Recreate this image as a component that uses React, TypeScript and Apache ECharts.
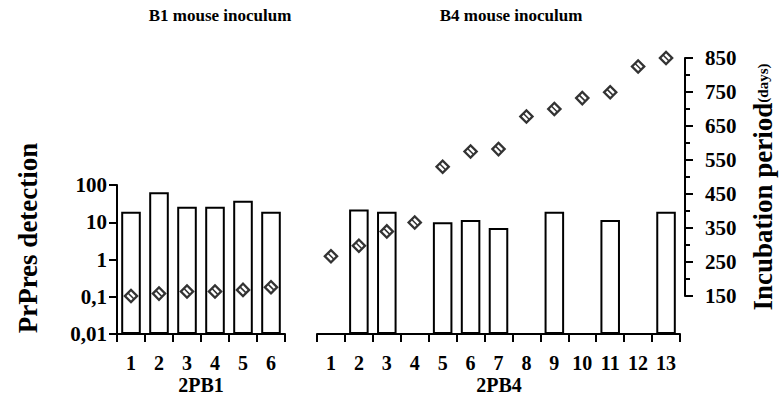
import React, { useEffect, useRef } from "react";
import * as echarts from "echarts";

const CAT_B1 = ["1", "2", "3", "4", "5", "6"];
const CAT_B4 = ["1", "2", "3", "4", "5", "6", "7", "8", "9", "10", "11", "12", "13"];
const PRPRES_B1 = [19, 64, 26, 26, 38, 19];
const PRPRES_B4: (number | null)[] = [null, 22, 19, null, 10, 11.5, 7, null, 19, null, 11.5, null, 19];
const INCUB_B1 = [150, 157, 163, 163, 168, 176];
const INCUB_B4 = [267, 298, 340, 366, 530, 575, 582, 678, 700, 732, 749, 825, 850];
const PRPRES_TICKS = ["0,01", "0,1", "1", "10", "100"];
const PRPRES_MIN = 0.01;
const INCUB_MIN = 150;
const INCUB_MAX = 850;
const INCUB_STEP = 100;

const FONT = "Liberation Serif";
const DIAMOND =
  "path://M0 0 L10 0 L10 10 L0 10 Z M2.1 2.1 L2.1 7.9 L4.3 7.9 L4.3 2.1 Z M5.7 2.1 L5.7 7.9 L7.9 7.9 L7.9 2.1 Z";

const toLog = (v: number | null) => (v == null ? "-" : Math.log10(v / PRPRES_MIN));

const txt = (text: string, size: number) => ({
  text,
  fill: "#000",
  fontFamily: FONT,
  fontWeight: "bold",
  fontSize: size,
  textAlign: "center",
  textVerticalAlign: "middle",
});

export default function App() {
  const ref = useRef<HTMLDivElement>(null);
  useEffect(() => {
    if (!ref.current) return;
    const chart = echarts.init(ref.current, undefined, { renderer: "svg" });
    const labelStyle = { color: "#000", fontFamily: FONT, fontWeight: "bold" as const, fontSize: 21 };
    const line = { show: true, lineStyle: { color: "#000", width: 2 } };
    const tick = { show: true, length: 8, lineStyle: { color: "#000", width: 2 } };
    const catAxis = (gridIndex: number, data: string[]) => ({
      type: "category",
      gridIndex,
      data,
      boundaryGap: true,
      axisLine: line,
      axisTick: tick,
      axisLabel: { ...labelStyle, fontSize: 20, margin: 19, interval: 0 },
      splitLine: { show: false },
    });
    const hiddenCat = (gridIndex: number, data: string[]) => ({
      type: "category",
      gridIndex,
      data,
      boundaryGap: true,
      show: false,
    });
    const diamondSeries = (idx: number, values: number[]) => ({
      type: "scatter",
      xAxisIndex: idx,
      yAxisIndex: idx,
      clip: false,
      symbol: DIAMOND,
      symbolSize: 11,
      symbolRotate: 45,
      data: values.map((v) => v - INCUB_MIN),
      itemStyle: { color: "#000" },
    });
    chart.setOption({
      animation: false,
      backgroundColor: "#fff",
      grid: [
        { left: 117, right: 494, top: 185, bottom: 74 },
        { left: 317, right: 99, top: 185, bottom: 74 },
        { left: 317, right: 99, top: 58, bottom: 112 },
        { left: 117, right: 494, top: 58, bottom: 112 },
      ],
      xAxis: [catAxis(0, CAT_B1), catAxis(1, CAT_B4), hiddenCat(2, CAT_B4), hiddenCat(3, CAT_B1)],
      yAxis: [
        {
          type: "value",
          gridIndex: 0,
          min: 0,
          max: PRPRES_TICKS.length - 1,
          interval: 1,
          axisLine: line,
          axisTick: tick,
          axisLabel: { ...labelStyle, margin: 10, formatter: (v: number) => PRPRES_TICKS[Math.round(v)] },
          splitLine: { show: false },
        },
        {
          type: "value",
          gridIndex: 1,
          min: 0,
          max: PRPRES_TICKS.length - 1,
          interval: 1,
          show: false,
        },
        {
          type: "value",
          gridIndex: 2,
          position: "right",
          offset: 5,
          min: 0,
          max: INCUB_MAX - INCUB_MIN,
          interval: INCUB_STEP,
          axisLine: line,
          axisTick: tick,
          minorTick: { show: true, splitNumber: 2, length: 5, lineStyle: { color: "#000", width: 2 } },
          axisLabel: { ...labelStyle, margin: 20, formatter: (v: number) => String(v + INCUB_MIN) },
          splitLine: { show: false },
          minorSplitLine: { show: false },
        },
        {
          type: "value",
          gridIndex: 3,
          min: 0,
          max: INCUB_MAX - INCUB_MIN,
          show: false,
        },
      ],
      series: [
        {
          type: "bar",
          xAxisIndex: 0,
          yAxisIndex: 0,
          barWidth: "70%",
          data: PRPRES_B1.map(toLog),
          itemStyle: { color: "#fff", borderColor: "#000", borderWidth: 2 },
        },
        {
          type: "bar",
          xAxisIndex: 1,
          yAxisIndex: 1,
          barWidth: "70%",
          data: PRPRES_B4.map(toLog),
          itemStyle: { color: "#fff", borderColor: "#000", borderWidth: 2 },
        },
        diamondSeries(2, INCUB_B4),
        diamondSeries(3, INCUB_B1),
      ],
      graphic: [
        { type: "text", x: 220, y: 15, style: txt("B1 mouse inoculum", 17) },
        { type: "text", x: 511, y: 15, style: txt("B4 mouse inoculum", 17) },
        { type: "text", x: 201, y: 385, style: txt("2PB1", 20) },
        { type: "text", x: 499, y: 385, style: txt("2PB4", 20) },
        { type: "text", x: 28, y: 238, rotation: Math.PI / 2, style: txt("PrPres detection", 27) },
        {
          type: "text",
          x: 763,
          y: 187,
          rotation: Math.PI / 2,
          style: {
            text: "{a|Incubation period}{b|(days)}",
            textAlign: "center",
            textVerticalAlign: "middle",
            rich: {
              a: { fill: "#000", fontFamily: FONT, fontWeight: "bold", fontSize: 27 },
              b: { fill: "#000", fontFamily: FONT, fontWeight: "bold", fontSize: 15 },
            },
          },
        },
      ],
    });
    return () => chart.dispose();
  }, []);
  return <div ref={ref} style={{ position: "fixed", left: 0, top: 0, width: 779, height: 408 }} />;
}
